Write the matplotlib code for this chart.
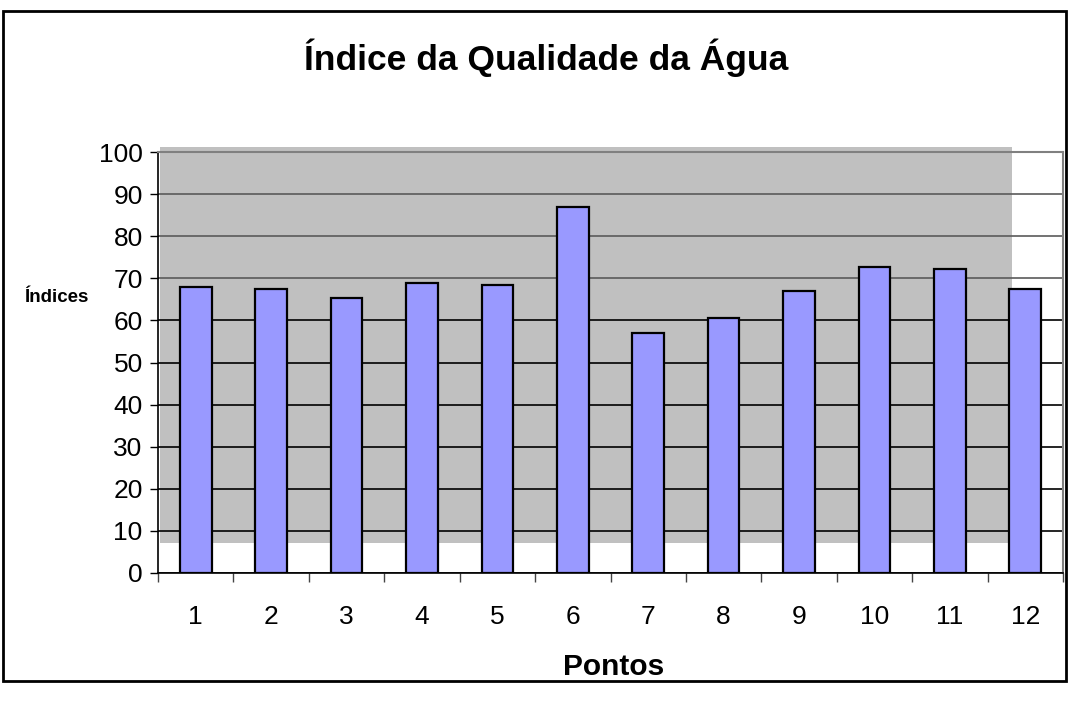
import matplotlib
matplotlib.use("Agg")
import matplotlib.pyplot as plt
from matplotlib.patches import Rectangle
import numpy as np

plt.rcParams['font.family'] = ['Liberation Sans', 'DejaVu Sans']

categories = ["1", "2", "3", "4", "5", "6", "7", "8", "9", "10", "11", "12"]
values = [68.0, 67.5, 65.4, 69.0, 68.4, 87.0, 56.9, 60.6, 66.9, 72.7, 72.3, 67.5]
yticks = [0, 10, 20, 30, 40, 50, 60, 70, 80, 90, 100]

W, H = 1071, 712
fig = plt.figure(figsize=(W / 100, H / 100), dpi=100)
fig.patch.set_facecolor('white')

# outer chart frame
fig.patches.append(Rectangle((3 / W, 1 - 681 / H), (1066 - 3) / W, (681 - 11) / H,
                             transform=fig.transFigure, fill=False,
                             edgecolor='black', linewidth=2.0, zorder=0))

ax = fig.add_axes([158 / W, 1 - 573 / H, (1063 - 158) / W, (573 - 152) / H])
ax.set_facecolor('white')

# gray background block behind plot
ax.add_patch(Rectangle((0.002, 0.071), 0.942, 0.941, transform=ax.transAxes,
                       facecolor='#C0C0C0', edgecolor='none', zorder=0.1,
                       clip_on=False))

x = np.arange(len(categories))
ax.bar(x, values, width=0.42, color='#9999FF', edgecolor='black',
       linewidth=1.6, zorder=2)

ax.set_xlim(-0.5, len(categories) - 0.5)
ax.set_ylim(0, 100)
ax.set_yticks(yticks)
ax.set_yticklabels([str(t) for t in yticks], fontsize=19)
ax.yaxis.grid(True, linewidth=1.2, zorder=0.5)
ax.set_axisbelow(True)
for gl, t in zip(ax.yaxis.get_gridlines(), yticks):
    gl.set_color('#5a5a5a' if t >= 70 else 'black')

ax.set_xticks(np.arange(len(categories) + 1) - 0.5)
ax.set_xticklabels([])
ax.set_xticks(x, minor=True)
ax.set_xticklabels(categories, minor=True, fontsize=19)
ax.tick_params(axis='x', which='major', length=6.5, width=1.0, color='#444444', direction='out')
ax.tick_params(axis='x', which='minor', length=0, pad=23)
ax.tick_params(axis='y', length=6, width=1.0, direction='out', pad=5)

ax.spines['left'].set_color('black')
ax.spines['bottom'].set_color('black')
ax.spines['left'].set_linewidth(1.2)
ax.spines['bottom'].set_linewidth(1.2)
ax.spines['top'].set_color('#808080')
ax.spines['right'].set_color('#808080')
ax.spines['top'].set_linewidth(1.5)
ax.spines['right'].set_linewidth(1.5)

fig.text(546 / W, 1 - 58 / H, "Índice da Qualidade da Água", ha='center', va='center',
         fontsize=25.5, fontweight='bold')
fig.text(614 / W, 1 - 667 / H, "Pontos", ha='center', va='center',
         fontsize=21.5, fontweight='bold')
fig.text(56 / W, 1 - 297 / H, "Índices", ha='center', va='center',
         fontsize=13.5, fontweight='bold')

fig.savefig("out.png", dpi=100, facecolor='white')
